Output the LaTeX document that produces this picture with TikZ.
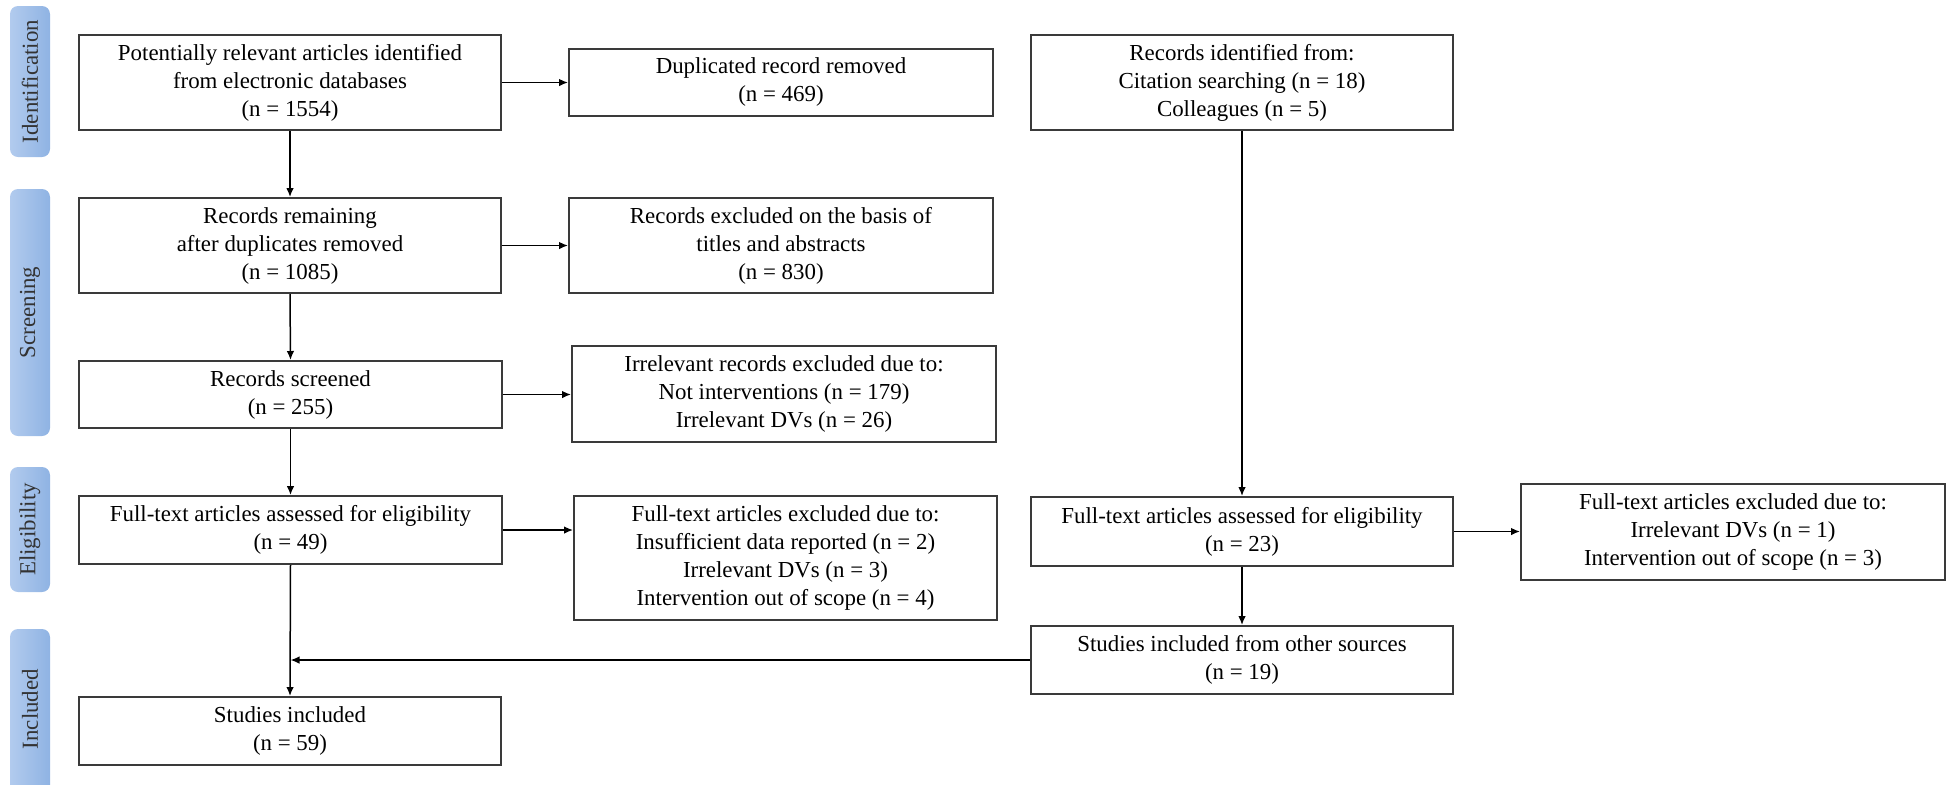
\documentclass[tikz,border=0pt]{standalone}
\usepackage{fontspec}
\setmainfont{Liberation Serif}
\usetikzlibrary{arrows.meta}
\definecolor{tabL}{HTML}{B2CBEE}
\definecolor{tabR}{HTML}{8FB3E3}
\definecolor{edge}{HTML}{3A3A3A}
\definecolor{tabtext}{HTML}{333333}
\begin{document}
\begin{tikzpicture}[x=0.5pt,y=-0.5pt,
  box/.style={draw=edge, line width=1pt, align=center, inner sep=0pt,
    font=\fontsize{11.45}{14}\selectfont, text=black, fill=white},
  conn/.style={line width=0.75pt, draw=black, -{Latex[length=4.5pt,width=3.8pt]}},
  plain/.style={line width=0.75pt, draw=black},
  tablabel/.style={rotate=90, font=\fontsize{11.45}{14}\selectfont, text=tabtext, inner sep=0pt},
  tabbox/.style={left color=tabL, right color=tabR, rounded corners=4pt}]
\useasboundingbox (0,0) rectangle (1950,784);

% phase tabs
\begin{scope}
\clip (0,0) rectangle (1950,784);
\shade[tabbox] (10,6) rectangle (50,157);
\shade[tabbox] (10,189) rectangle (50,436);
\shade[tabbox] (10,467) rectangle (50,592);
\shade[tabbox] (10,629) rectangle (50,800);
\end{scope}
\node[tablabel] (tI) at (30,81.5) {Identification};
\node[tablabel] (tS) at (30,312.5) {Screening};
\node[tablabel] (tE) at (30,529.5) {Eligibility};
\node[tablabel] (tN) at (30,709) {Included};

% left column
\node[box, minimum width=211pt, minimum height=47.5pt] (A) at (290,82.5)
  {Potentially relevant articles identified\\from electronic databases\\(n = 1554)};
\node[box, minimum width=211pt, minimum height=47.5pt] (R) at (290,245.5)
  {Records remaining\\after duplicates removed\\(n = 1085)};
\node[box, minimum width=211.5pt, minimum height=33.5pt] (S) at (290.5,394.5)
  {Records screened\\(n = 255)};
\node[box, minimum width=211.5pt, minimum height=34pt] (F) at (290.5,530)
  {Full-text articles assessed for eligibility\\(n = 49)};
\node[box, minimum width=211pt, minimum height=34pt] (I) at (290,731)
  {Studies included\\(n = 59)};

% exclusion column
\node[box, minimum width=212pt, minimum height=33.5pt] (D) at (781,82)
  {Duplicated record removed\\(n = 469)};
\node[box, minimum width=212pt, minimum height=47.5pt] (X) at (781,245.5)
  {Records excluded on the basis of\\titles and abstracts\\(n = 830)};
\node[box, minimum width=212pt, minimum height=48pt] (Y) at (784,394)
  {Irrelevant records excluded due to:\\Not interventions (n = 179)\\Irrelevant DVs (n = 26)};
\node[box, minimum width=211.5pt, minimum height=62pt] (Z) at (785.5,558)
  {Full-text articles excluded due to:\\Insufficient data reported (n = 2)\\Irrelevant DVs (n = 3)\\Intervention out of scope (n = 4)};

% other sources column
\node[box, minimum width=211pt, minimum height=47.5pt] (O) at (1242,82.5)
  {Records identified from:\\Citation searching (n = 18)\\Colleagues (n = 5)};
\node[box, minimum width=211pt, minimum height=34.5pt] (P) at (1242,531.5)
  {Full-text articles assessed for eligibility\\(n = 23)};
\node[box, minimum width=211pt, minimum height=34pt] (Q) at (1242,660)
  {Studies included from other sources\\(n = 19)};
\node[box, minimum width=212pt, minimum height=48pt] (W) at (1733,531.5)
  {Full-text articles excluded due to:\\Irrelevant DVs (n = 1)\\Intervention out of scope (n = 3)};

% connectors
\draw[conn] (A.south) -- (R.north);
\draw[conn] (R.south) -- (S.north);
\draw[conn] (S.south) -- (F.north);
\draw[conn] (F.south) -- (I.north);
\draw[conn] (A.east) -- (A.east -| D.west);
\draw[conn] (R.east) -- (R.east -| X.west);
\draw[conn] (S.east) -- (S.east -| Y.west);
\draw[conn] (F.east) -- (F.east -| Z.west);
\draw[conn] (O.south) -- (P.north);
\draw[conn] (P.south) -- (Q.north);
\draw[conn] (P.east) -- (P.east -| W.west);
\coordinate (J) at (F.south |- Q.west);
\draw[conn] (Q.west) -- (J);
\end{tikzpicture}
\end{document}
